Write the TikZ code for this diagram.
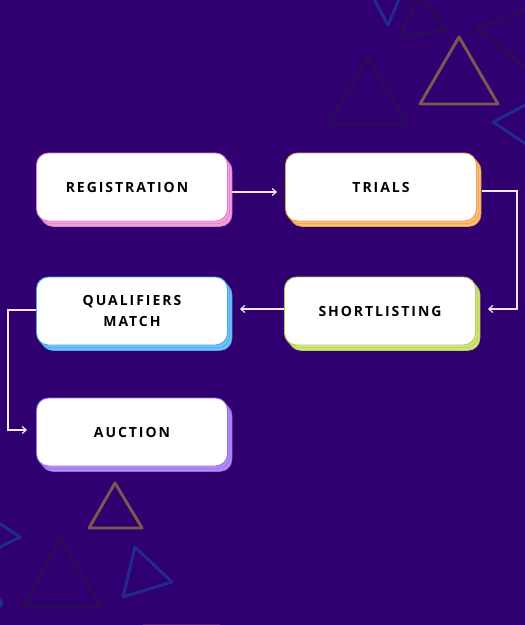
\documentclass[tikz,border=0pt]{standalone}
\usepackage{fontspec}
\setmainfont{Open Sans}
\usepackage{tikz}
\usetikzlibrary{arrows.meta, shadows, positioning}
\definecolor{bgpurple}{HTML}{310070}
\definecolor{pinkline}{HTML}{E47ACE}
\definecolor{pinkfill}{HTML}{F4A2DF}
\definecolor{orangeline}{HTML}{EE9E52}
\definecolor{orangefill}{HTML}{FBC070}
\definecolor{greenline}{HTML}{B4CC5C}
\definecolor{greenfill}{HTML}{D2E67C}
\definecolor{blueline}{HTML}{4AA6F0}
\definecolor{bluefill}{HTML}{70C2FA}
\definecolor{violetline}{HTML}{986CEE}
\definecolor{violetfill}{HTML}{B28EF8}
\definecolor{tribrown}{HTML}{7A5A50}
\definecolor{tridark}{HTML}{2A0D58}
\definecolor{triblue}{HTML}{1F2B8E}
\tikzset{stagebox/.style={rounded corners=12pt, fill=white, draw=#1line, line width=0.9pt, minimum width=191pt, minimum height=68pt, align=center, font=\bfseries\addfontfeature{LetterSpace=14}\fontsize{14}{21}\selectfont, double copy shadow={shadow xshift=2.2pt, shadow yshift=-2.7pt, fill=#1fill, draw=#1line, line width=0.7pt}}}
\tikzset{flow/.style={draw={rgb,255:red,240;green,232;blue,255}, line width=1.2pt, -{Straight Barb[length=4pt, width=7pt, line width=1.2pt]}}, tri/.style={line width=2.9pt, line join=round, draw=#1}}

\begin{document}
\begin{tikzpicture}[x=1pt, y=-1pt]
                 \fill[bgpurple] (0,0) rectangle (525,625);
                 \useasboundingbox (0,0) rectangle (525,625);

                 \draw[tri=triblue] (368,-12) -- (388,25) -- (404,-12);
                 \draw[tri=tridark] (420,-4) -- (399,37) -- (447,30) -- cycle;
                 \draw[tri=tribrown] (459,37) -- (420,104) -- (498,104) -- cycle;
                 \draw[tri=tridark] (368,57) -- (329,124) -- (407,124) -- cycle;
                 \draw[tri=tridark] (535,5) -- (477,29) -- (535,75);
                 \draw[tri=triblue] (535,100) -- (493,122) -- (535,150);

                 \draw[tri=tribrown] (115,483) -- (89,528) -- (142,528) -- cycle;
                 \draw[tri=triblue] (-10,517) -- (20,537) -- (-10,552);
                 \draw[tri=tridark] (61,539) -- (23,606) -- (100,606) -- cycle;
                 \draw[tri=triblue] (135,547) -- (172,582) -- (123,597) -- cycle;
                 \draw[tri=triblue] (-6,590) -- (2,603) -- (-6,616);
                 \draw[line width=1pt, draw={rgb,255:red,80;green,30;blue,110}] (143,624.5) -- (220,624.5);

                 \node[stagebox=pink] (reg) at (132,187) {\hspace*{-10pt}REGISTRATION};
                 \node[stagebox=orange] (trials) at (381,187) {TRIALS};
                 \node[stagebox=green] (short) at (380,311) {SHORTLISTING};
                 \node[stagebox=blue] (qual) at (132,311) {QUALIFIERS\\MATCH};
                 \node[stagebox=violet] (auction) at (132,432) {AUCTION};

                 \draw[flow] ([xshift=4pt,yshift=-5pt]reg.east) -- ([xshift=-8pt,yshift=-5pt]trials.west);
                 \draw[flow] ([xshift=5pt,yshift=-4pt]trials.east) -- ++(35,0) |- ([xshift=12pt,yshift=2pt]short.east);
                 \draw[flow] ([yshift=2pt]short.west) -- ([xshift=12pt,yshift=2pt]qual.east);
                 \draw[flow] ([yshift=1pt]qual.west) -- ++(-28,0) |- ([xshift=-9pt,yshift=2pt]auction.west);
\end{tikzpicture}
\end{document}
